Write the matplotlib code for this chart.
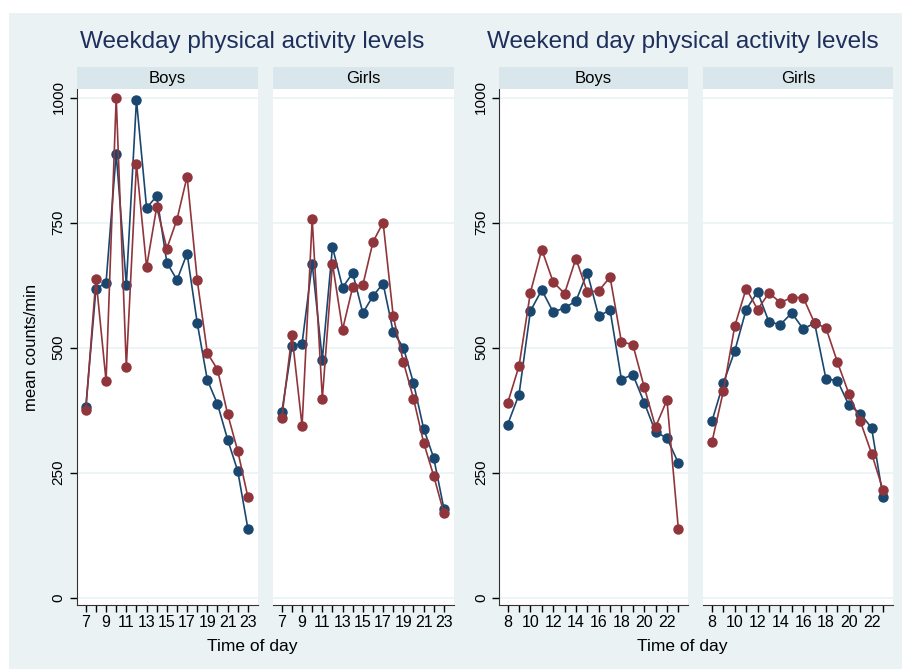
import numpy as np
import matplotlib
matplotlib.use("Agg")
import matplotlib.pyplot as plt
from matplotlib.patches import Rectangle

plt.rcParams['font.family'] = ['Liberation Sans', 'DejaVu Sans']

# hours
wd_hours = list(range(7, 24))
we_hours = list(range(8, 24))

# weekday, boys
wd_boys_blue = [381, 617, 630, 888, 625, 995, 779, 803, 670, 635, 688, 549, 435, 387, 316, 253, 138]
wd_boys_red = [375, 638, 433, 1000, 461, 867, 661, 781, 698, 756, 842, 635, 489, 456, 367, 293, 201]
# weekday, girls
wd_girls_blue = [371, 503, 508, 668, 476, 701, 620, 649, 569, 603, 628, 531, 500, 429, 338, 279, 178]
wd_girls_red = [360, 525, 343, 757, 398, 668, 536, 621, 625, 711, 750, 563, 471, 398, 310, 243, 169]
# weekend day, boys
we_boys_blue = [346, 406, 573, 615, 571, 579, 593, 650, 563, 575, 436, 446, 390, 331, 319, 269]
we_boys_red = [389, 463, 610, 696, 631, 608, 678, 611, 613, 641, 511, 506, 421, 341, 395, 138]
# weekend day, girls
we_girls_blue = [353, 429, 493, 576, 611, 551, 546, 569, 537, 549, 437, 434, 385, 368, 339, 201]
we_girls_red = [311, 413, 543, 618, 576, 609, 590, 600, 600, 549, 539, 471, 408, 353, 288, 215]

yticks = [0, 250, 500, 750, 1000]
panel_names = ["Boys", "Girls", "Boys", "Girls"]

BLUE = "#1a476f"
RED = "#90353b"
BG = "#eaf2f3"
STRIP = "#d9e6eb"

W, H = 906, 669
fig = plt.figure(figsize=(W / 100, H / 100), dpi=100, facecolor="white")
fig.patches.append(Rectangle((9 / W, 0), (902 - 9) / W, 1 - 13 / H,
                             transform=fig.transFigure, facecolor=BG, edgecolor="none", zorder=-5))

# panel x extents in pixels
panels = [(76.7, 258), (272.7, 454), (499, 688), (703.3, 892.7)]
top_px, bot_px, strip_top = 89, 605, 67.3

series = [
    (wd_hours, wd_boys_blue, wd_boys_red),
    (wd_hours, wd_girls_blue, wd_girls_red),
    (we_hours, we_boys_blue, we_boys_red),
    (we_hours, we_girls_blue, we_girls_red),
]

for i, ((x0, x1), (hrs, b, r)) in enumerate(zip(panels, series)):
    ax = fig.add_axes([x0 / W, 1 - bot_px / H, (x1 - x0) / W, (bot_px - top_px) / H])
    ax.set_facecolor("white")
    for yt in yticks:
        ax.axhline(yt, color=BG, lw=1.2, zorder=0)
    ax.plot(hrs, b, color=BLUE, lw=1.2, marker="o", ms=6.5, zorder=3)
    ax.plot(hrs, r, color=RED, lw=1.2, marker="o", ms=6.5, zorder=4)
    ax.set_ylim(-15, 1017)
    if i < 2:
        ax.set_xlim(6.1, 24.0)
        ax.set_xticks(range(7, 24, 2))
        ax.set_xticks(range(8, 23, 2), minor=True)
    else:
        ax.set_xlim(7.24, 23.85)
        ax.set_xticks(range(8, 23, 2))
        ax.set_xticks(range(9, 24, 2), minor=True)
    ax.tick_params(axis="x", which="both", length=5, width=1, direction="out",
                   labelsize=11.5, pad=2)
    for s in ["top", "right"]:
        ax.spines[s].set_visible(False)
    ax.spines["bottom"].set_color("#333333")
    if i in (0, 2):
        ax.set_yticks(yticks)
        ax.set_yticklabels([str(v) for v in yticks], rotation=90, va="center")
        ax.tick_params(axis="y", length=5, width=1, labelsize=11, pad=3)
        ax.spines["left"].set_color("#333333")
    else:
        ax.set_yticks([])
        ax.spines["left"].set_visible(False)
    # strip header
    fig.patches.append(Rectangle((x0 / W, 1 - top_px / H), (x1 - x0) / W, (top_px - strip_top) / H,
                                 transform=fig.transFigure, facecolor=STRIP, edgecolor="none", zorder=1))
    fig.text((x0 + x1) / 2 / W, 1 - (top_px + strip_top) / 2 / H, panel_names[i],
             ha="center", va="center", fontsize=12)

title_col = "#1f2f5c"
fig.text(252 / W, 1 - 42 / H, "Weekday physical activity levels", ha="center", va="center",
         fontsize=17.5, color=title_col)
fig.text(683 / W, 1 - 42 / H, "Weekend day physical activity levels", ha="center", va="center",
         fontsize=17.5, color=title_col)
fig.text(252 / W, 1 - 646 / H, "Time of day", ha="center", va="center", fontsize=12.5)
fig.text(682 / W, 1 - 646 / H, "Time of day", ha="center", va="center", fontsize=12.5)
fig.text(31 / W, 1 - 347 / H, "mean counts/min", ha="center", va="center", rotation=90, fontsize=12)

fig.savefig("out.png", dpi=100, facecolor=fig.get_facecolor())
